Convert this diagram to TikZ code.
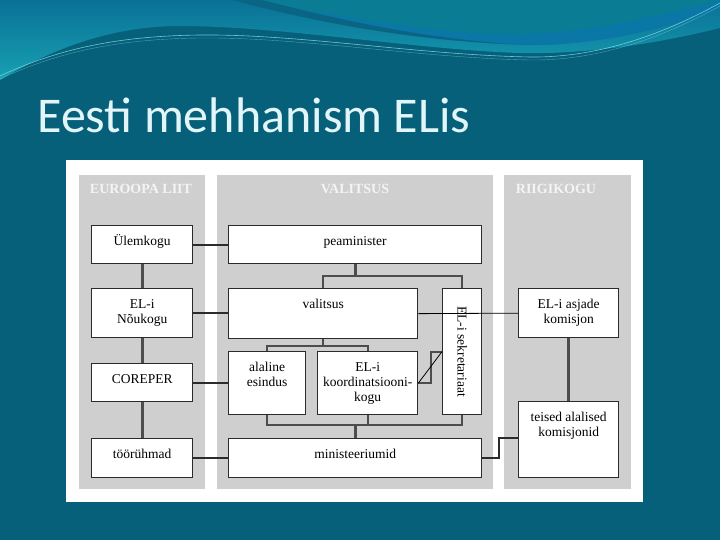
\documentclass[tikz,border=0pt]{standalone}
\usepackage{fontspec}
\setmainfont{Liberation Serif}
\newfontfamily\titlefont{Carlito}
\usepackage{tikz}
\definecolor{slideBg}{HTML}{06607A}
\definecolor{waveTop}{HTML}{0A7196}
\definecolor{waveLight}{HTML}{17A1B3}
\definecolor{waveBlue}{HTML}{0B77A6}
\definecolor{waveTeal}{HTML}{0A7D95}
\definecolor{waveDark}{HTML}{0A6585}
\definecolor{waveLine}{HTML}{8ADFE8}
\definecolor{titleColor}{HTML}{E2F5F8}
\definecolor{colGray}{HTML}{CFCFCF}
\definecolor{headText}{HTML}{F4F4F4}
\definecolor{boxLine}{HTML}{2B2B2B}
\definecolor{treeLine}{HTML}{4D4D4D}

\begin{document}
\begin{tikzpicture}[x=1pt, y=-1pt,
    lbl/.style={font=\fontsize{13.5}{15}\selectfont, align=center, inner sep=0pt},
    frame/.style={draw=boxLine, line width=1.3pt, fill=white, inner sep=0pt, anchor=north west},
    box/.style={frame, label={[lbl, anchor=north, yshift=-9.5pt]north:\strut #1}},
    head/.style={font=\bfseries\fontsize{14}{15}\selectfont, text=headText, anchor=base},
    tree/.style={draw=treeLine, line width=3pt},
    bar/.style={draw=treeLine, line width=1.8pt},
    link/.style={draw=boxLine, line width=1.8pt},
    wire/.style={draw=black, line width=0.8pt}]
    \useasboundingbox (0,0) rectangle (720,540);

    % slide background
    \fill[slideBg] (0,0) rectangle (720,540);
    \shade[top color=waveTop, bottom color=waveLight] (0,0) -- (0,80)
        .. controls (50,50) and (110,26) .. (180,26)
        .. controls (280,26) and (420,50) .. (520,53)
        .. controls (600,55) and (680,38) .. (720,28) -- (720,0) -- cycle;
    \fill[waveBlue] (235,0) .. controls (330,20) and (430,42) .. (520,45)
        .. controls (600,47) and (680,25) .. (720,8) -- (720,0) -- cycle;
    \fill[waveTeal] (250,0) .. controls (330,14) and (420,32) .. (500,34)
        .. controls (580,36) and (660,15) .. (720,0) -- cycle;
    \fill[waveDark] (232,0) .. controls (300,18) and (400,40) .. (510,44)
        .. controls (400,36) and (310,12) .. (262,0) -- cycle;
    \draw[waveLine, line width=0.6pt, opacity=0.8] (0,76) .. controls (60,48) and (120,36) .. (200,35)
        .. controls (300,34) and (420,55) .. (530,57) .. controls (610,58) and (680,25) .. (720,3);
    \draw[waveLine, line width=0.4pt, opacity=0.5] (0,79) .. controls (60,51) and (120,39) .. (200,38)
        .. controls (300,37) and (420,58) .. (530,60) .. controls (610,61) and (680,28) .. (720,6);

    \node[anchor=base west, text=titleColor, font=\titlefont\fontsize{50}{55}\selectfont]
        (title) at (34,133) {Eesti mehhanism ELis};

    % diagram panel
    \fill[white] (66,160) rectangle (643,502);
    \fill[colGray] (79,175) rectangle (205,489);
    \fill[colGray] (217,175) rectangle (493,489);
    \fill[colGray] (504,175) rectangle (631,489);
    \node[head] (hEL) at (141,194) {EUROOPA LIIT};
    \node[head] (hVal) at (355,194) {VALITSUS};
    \node[head] (hRk) at (556,194) {RIIGIKOGU};

    % Euroopa Liit
    \node[box=Ülemkogu, minimum width=101pt, minimum height=38pt] (ulem) at (91,225) {};
    \node[box={EL-i\\Nõukogu}, minimum width=101pt, minimum height=49pt] (noukogu) at (91,288) {};
    \node[box=COREPER, minimum width=101pt, minimum height=38pt] (coreper) at (91,363) {};
    \node[box=töörühmad, minimum width=101pt, minimum height=39pt] (tooruhm) at (91,438) {};

    % valitsus
    \node[box=peaminister, minimum width=253pt, minimum height=38pt] (peamin) at (228,225) {};
    \node[box=valitsus, minimum width=189pt, minimum height=50pt] (valits) at (228,288) {};
    \node[frame, minimum width=39pt, minimum height=126pt,
        label={[lbl, rotate=-90]center:EL-i sekretariaat}] (sekr) at (442,288) {};
    \node[box={alaline\\esindus}, minimum width=77pt, minimum height=63pt] (alaline) at (228,351) {};
    \node[box={EL-i\\koordinatsiooni-\\kogu}, minimum width=100pt, minimum height=63pt] (koord) at (317,351) {};
    \node[box=ministeeriumid, minimum width=253pt, minimum height=39pt] (minist) at (228,438) {};

    % Riigikogu
    \node[box={EL-i asjade\\komisjon}, minimum width=100pt, minimum height=49pt] (asjade) at (518,288) {};
    \node[box={teised alalised\\komisjonid}, minimum width=100pt, minimum height=76pt] (teised) at (518,401) {};

    % connectors
    \draw[tree] (ulem) -- (noukogu);
    \draw[tree] (noukogu) -- (coreper);
    \draw[tree] (coreper) -- (tooruhm);
    \draw[tree] (asjade) -- (teised);

    \draw[link] (ulem.east) -- (peamin.west);
    \draw[link] (noukogu.east) -- (noukogu.east -| valits.west);
    \draw[link] (coreper.east) -- (coreper.east -| alaline.west);
    \draw[link] (tooruhm.east) -- (tooruhm.east -| minist.west);
    \draw[link] (minist.east) -- ++(17,0) |- (teised.west |- minist.north);

    \draw[tree] (peamin.south) -- ++(0,12) coordinate (pb);
    \draw[bar] (valits.north) |- (pb) -| (sekr.north);
    \draw[bar] (valits.south) -- ++(0,7) coordinate (vb);
    \draw[bar] (alaline.north) |- (vb) -| (koord.north);
    \draw[tree] (minist.north) -- ++(0,-13) coordinate (mb);
    \draw[bar] (alaline.south) |- (mb) -| (sekr.south);
    \draw[bar] (koord.south) -- (koord.south |- mb);

    \draw[bar] (koord.east) -- ++(13,0) |- (sekr.west);
    \draw[wire] (koord.east) -- (sekr.west);
    \draw[wire] (valits.east) -- (asjade.west);
\end{tikzpicture}
\end{document}
